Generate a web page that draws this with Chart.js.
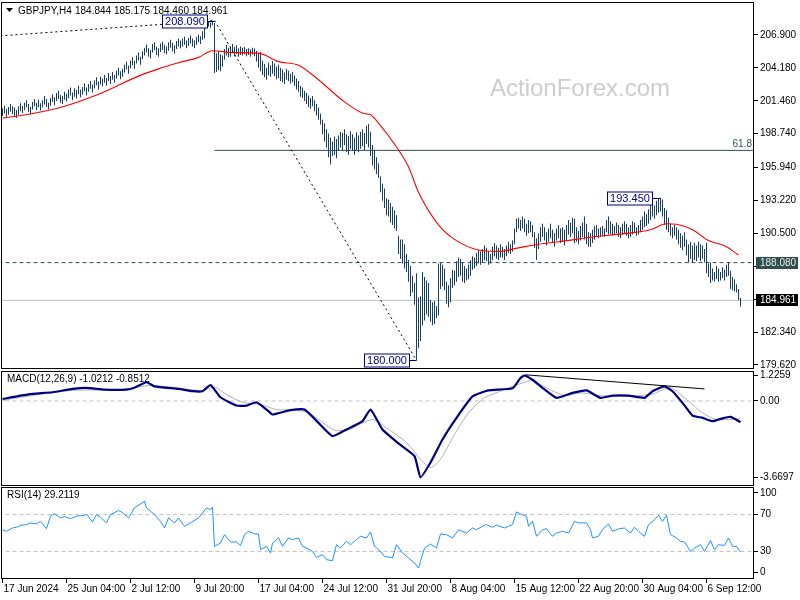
<!DOCTYPE html>
<html>
<head>
<meta charset="utf-8">
<script src="https://cdn.jsdelivr.net/npm/chart.js@4.4.1/dist/chart.umd.min.js"></script>
<style>
  html, body { margin: 0; padding: 0; background: #fff; }
  #wrap { position: relative; width: 800px; height: 600px; overflow: hidden; }
  #wrap canvas { position: absolute; left: 0; }
</style>
</head>
<body>
<div id="wrap">
  <canvas id="priceChart" width="800" height="371" style="top:0"></canvas>
  <canvas id="macdChart" width="800" height="119" style="top:369px"></canvas>
  <canvas id="rsiChart" width="800" height="114" style="top:486px"></canvas>
</div>
<script>
// GBPJPY H4 - bar index 0 = 17 Jun 2024 00:00, 6 bars per day
const symbolLabel = 'GBPJPY,H4';
const lastOHLC = [184.844, 185.175, 184.460, 184.961];

const xTickIdx = [0, 32, 64, 96, 128, 160, 192, 224, 256, 288, 320, 352];
const xTickText = ['17 Jun 2024', '25 Jun 04:00', '2 Jul 12:00', '9 Jul 20:00', '17 Jul 04:00', '24 Jul 12:00',
  '31 Jul 20:00', '8 Aug 04:00', '15 Aug 12:00', '22 Aug 20:00', '30 Aug 04:00', '6 Sep 12:00'];

const priceTicks = [179.62, 182.34, 185.06, 187.78, 190.50, 193.22, 195.94, 198.74, 201.46, 204.18, 206.90];

const barHigh = [
  200.85, 201.05, 200.80, 200.95, 201.20, 201.00, 200.90, 200.70, 201.00, 201.25,
  201.05, 201.30, 201.50, 201.20, 200.95, 201.35, 201.60, 201.30, 201.55, 201.25,
  201.50, 201.85, 201.60, 201.30, 201.70, 202.00, 201.75, 202.10, 202.30, 201.95,
  201.85, 202.20, 202.05, 202.40, 202.55, 202.15, 202.50, 202.35, 202.70, 202.40,
  202.60, 202.90, 202.55, 202.85, 203.10, 202.80, 203.15, 203.40, 203.05, 203.45,
  203.30, 203.60, 203.35, 203.75, 203.50, 203.85, 203.60, 203.95, 204.20, 203.90,
  204.10, 204.45, 204.70, 204.35, 204.80, 205.05, 204.75, 205.20, 205.45, 205.10,
  205.55, 205.85, 206.10, 205.80, 205.65, 206.15, 206.30, 205.95, 205.80, 206.20,
  206.35, 206.10, 205.95, 206.30, 206.50, 206.25, 206.05, 206.40, 206.60, 206.45,
  206.60, 206.75, 206.45, 206.65, 206.85, 206.60, 206.45, 206.75, 206.95, 206.80,
  207.20, 207.95, 208.00, 208.05, 207.95, 208.09, 207.90, 205.40, 205.60, 205.30,
  205.20, 205.75, 206.10, 205.85, 205.95, 206.15, 205.90, 206.05, 205.80, 205.95,
  205.85, 205.90, 205.75, 205.80, 205.70, 205.85, 205.78, 205.60, 205.40, 205.50,
  204.80, 204.50, 204.20, 204.60, 204.40, 204.75, 204.55, 204.30, 204.45, 204.20,
  204.05, 203.80, 204.10, 203.95, 203.70, 203.85, 203.55, 203.30, 203.10, 202.70,
  202.55, 202.30, 202.10, 201.90, 201.70, 201.85, 201.50, 201.20, 200.90, 200.40,
  199.90, 199.60, 199.10, 198.75, 198.40, 198.10, 198.50, 198.30, 198.60, 198.90,
  198.80, 199.10, 198.70, 198.55, 198.95, 198.70, 198.40, 198.85, 198.60, 198.90,
  199.10, 198.80, 199.40, 199.55, 198.90, 197.80, 197.40, 196.80, 196.30, 195.20,
  194.60, 194.20, 193.40, 193.30, 193.00, 192.70, 192.40, 192.00, 190.30, 190.00,
  190.00, 189.60, 188.80, 188.30, 187.80, 187.00, 186.40, 187.20, 185.20, 185.30,
  187.30, 186.90, 186.60, 186.40, 185.00, 184.80, 184.90, 184.50, 188.00, 188.10,
  187.90, 187.60, 186.50, 186.20, 186.80, 187.50, 187.40, 188.20, 188.50, 188.40,
  188.10, 187.80, 187.60, 187.90, 188.30, 188.60, 188.50, 188.90, 189.10, 189.00,
  189.20, 189.50, 189.30, 189.00, 188.80, 189.40, 189.70, 189.50, 189.30, 189.60,
  189.40, 189.20, 189.50, 189.80, 189.60, 189.90, 190.90, 191.70, 191.80, 191.60,
  191.90, 191.70, 191.30, 191.60, 191.50, 191.20, 190.60, 190.10, 190.50, 191.00,
  191.30, 191.00, 190.60, 190.90, 191.30, 190.80, 190.50, 190.90, 191.20, 190.90,
  191.00, 190.80, 191.20, 191.60, 191.40, 191.80, 191.70, 191.00, 190.70, 191.10,
  191.40, 191.90, 191.30, 190.60, 190.50, 190.80, 191.10, 191.20, 190.90, 191.00,
  191.10, 190.90, 191.60, 191.90, 191.50, 191.30, 191.10, 191.40, 191.20, 191.00,
  191.30, 191.50, 191.30, 191.00, 191.20, 191.50, 191.40, 191.00, 191.20, 191.60,
  191.90, 192.30, 192.10, 192.50, 192.80, 193.10, 192.80, 193.20, 193.35, 193.45,
  193.30, 192.60, 192.40, 191.80, 191.30, 191.00, 191.20, 191.00, 190.80, 190.50,
  190.30, 190.60, 190.00, 189.60, 189.80, 189.50, 189.70, 189.50, 189.80, 189.60,
  189.50, 189.20, 189.70, 188.00, 188.10, 187.60, 187.30, 187.80, 187.60, 187.30,
  187.70, 187.50, 187.90, 188.10, 187.40, 186.90, 186.70, 186.30, 185.90, 185.175
];
const barLow = [
  200.20, 200.40, 200.15, 200.30, 200.55, 200.35, 200.20, 200.05, 200.30, 200.60,
  200.45, 200.70, 200.90, 200.55, 200.35, 200.75, 201.00, 200.70, 200.95, 200.65,
  200.90, 201.15, 200.95, 200.75, 201.05, 201.35, 201.10, 201.45, 201.60, 201.30,
  201.20, 201.55, 201.40, 201.70, 201.90, 201.50, 201.80, 201.65, 202.00, 201.75,
  201.95, 202.25, 201.90, 202.20, 202.45, 202.15, 202.50, 202.75, 202.40, 202.80,
  202.65, 202.95, 202.70, 203.10, 202.85, 203.20, 202.95, 203.30, 203.55, 203.25,
  203.45, 203.80, 204.05, 203.70, 204.15, 204.40, 204.10, 204.55, 204.80, 204.45,
  204.90, 205.20, 205.45, 205.10, 204.95, 205.45, 205.65, 205.25, 205.10, 205.50,
  205.65, 205.40, 205.30, 205.60, 205.85, 205.55, 205.35, 205.75, 205.95, 205.80,
  205.95, 206.10, 205.80, 206.00, 206.20, 205.95, 205.80, 206.10, 206.30, 206.15,
  206.50, 206.60, 207.55, 207.60, 207.50, 207.70, 203.75, 203.85, 204.00, 203.90,
  204.30, 204.85, 205.20, 205.05, 205.10, 205.40, 205.15, 205.30, 205.10, 205.25,
  205.20, 205.30, 205.15, 205.25, 205.10, 205.28, 205.15, 204.70, 204.20, 203.90,
  203.60, 203.40, 203.20, 203.55, 203.45, 203.70, 203.50, 203.25, 203.35, 203.10,
  203.00, 202.85, 203.20, 203.10, 202.90, 203.00, 202.70, 202.40, 202.20, 201.80,
  201.70, 201.45, 201.20, 200.95, 200.80, 201.00, 200.60, 200.25, 199.90, 199.50,
  198.70, 198.10, 197.60, 196.80, 196.20, 196.90, 197.00, 196.70, 197.30, 197.60,
  197.40, 197.80, 197.20, 197.00, 197.50, 197.30, 197.00, 197.40, 197.20, 197.50,
  197.70, 197.40, 197.90, 197.60, 196.90, 196.10, 195.80, 195.40, 195.10, 193.90,
  193.20, 192.60, 192.00, 191.90, 191.40, 191.20, 190.90, 190.70, 188.80, 188.40,
  188.00, 187.60, 187.30, 186.50, 185.30, 185.60, 184.60, 180.00, 181.00, 181.60,
  182.90, 183.30, 183.80, 183.60, 183.20, 182.90, 183.00, 183.50, 183.70, 185.90,
  186.10, 185.80, 184.70, 184.40, 184.80, 186.00, 186.20, 186.50, 186.90, 187.00,
  186.50, 186.40, 186.60, 186.70, 187.00, 187.50, 187.60, 187.80, 188.00, 187.90,
  188.10, 188.30, 188.20, 187.90, 188.00, 188.30, 188.60, 188.40, 188.30, 188.50,
  188.50, 188.30, 188.60, 188.90, 188.80, 189.00, 189.60, 190.60, 190.90, 190.70,
  190.90, 190.60, 190.30, 190.50, 190.60, 190.20, 189.30, 188.30, 189.20, 189.80,
  190.20, 189.90, 189.50, 189.80, 190.10, 189.70, 189.40, 189.90, 190.10, 189.70,
  189.80, 189.50, 189.90, 190.40, 190.20, 190.50, 189.70, 189.80, 189.60, 189.90,
  190.20, 190.00, 189.60, 189.40, 189.40, 189.70, 190.00, 190.30, 190.10, 190.20,
  190.30, 190.20, 190.60, 190.40, 190.40, 190.30, 190.40, 190.50, 190.20, 190.10,
  190.40, 190.50, 190.30, 190.10, 190.20, 190.40, 190.60, 190.30, 190.40, 190.60,
  190.80, 191.00, 191.10, 191.30, 191.60, 191.90, 191.70, 192.00, 192.20, 192.30,
  191.90, 191.20, 190.80, 190.60, 190.30, 190.10, 190.30, 190.00, 189.60, 189.30,
  189.10, 189.40, 188.70, 188.10, 188.40, 188.10, 188.30, 188.20, 188.50, 188.20,
  188.40, 188.10, 187.20, 186.90, 186.40, 186.60, 186.50, 186.70, 186.50, 186.60,
  186.80, 186.60, 186.90, 187.00, 185.90, 185.80, 185.70, 185.60, 185.00, 184.46
];

// moving average (red)
const maIdx = [0, 14, 28, 48, 68, 78, 88, 98, 105, 115, 128, 138, 148, 158, 170, 180, 184, 188, 197, 203,
  208, 218, 226, 238, 248, 258, 268, 278, 295, 312, 324, 332, 337, 345, 353, 362, 368];
const maVal = [200.04, 200.37, 200.86, 202.0, 203.5, 204.1, 204.6, 205.05, 205.6, 205.45,
  205.4, 204.7, 204.4, 203.2, 201.5, 200.45, 200.3, 199.62, 197.64, 196.0,
  193.9, 191.2, 190.0, 189.12, 189.0, 189.3, 189.6, 189.8, 190.2, 190.5,
  190.8, 191.3, 191.25, 190.8, 189.9, 189.4, 188.7];

// drawn objects on the price panel
const dotLine1Idx = [-1, 106];
const dotLine1Val = [206.83, 208.09];
const dotLine2Idx = [106, 207];
const dotLine2Val = [208.09, 180.00];
const fibIdx = [106, 377];
const fibLevel = 197.36;
const fibLabel = '61.8';
const levelIdx = [-2, 377];
const resistLevel = 188.08;
const lastLevel = 184.961;
const calloutIdx = [106, 207, 329];
const calloutPrice = [208.09, 180.00, 193.45];
const tagPrice = [188.08, 184.961];

// MACD(12,26,9)
const macdIdx = [0, 13, 25, 35, 42, 51, 62, 66, 72, 76, 88, 95, 100, 104, 109, 117, 122, 127, 133, 135,
  144, 151, 158, 165, 172, 180, 184, 190, 198, 206, 209, 214, 220, 227, 235, 243, 255, 259, 261, 265,
  270, 277, 285, 292, 299, 305, 313, 321, 325, 331, 335, 340, 345, 350, 355, 359, 364, 369];
const macdVal = [0.10, 0.32, 0.42, 0.58, 0.63, 0.55, 0.55, 0.64, 0.90, 0.70, 0.58, 0.47, 0.47, 0.77, 0.18, -0.22, -0.22, -0.06, -0.49, -0.65,
  -0.44, -0.41, -1.05, -1.69, -1.37, -0.97, -0.41, -1.37, -2.04, -2.65, -3.6697, -2.96, -1.85, -0.81, 0.22, 0.51, 0.61, 1.11, 1.2259, 1.02,
  0.63, 0.15, 0.39, 0.51, 0.15, 0.26, 0.26, 0.15, 0.47, 0.70, 0.47, -0.09, -0.70, -0.81, -0.97, -0.86, -0.76, -1.0212];
const signalIdx = [0, 18, 35, 59, 73, 81, 100, 106, 112, 120, 129, 137, 146, 153, 166, 173, 185, 192, 202, 209,
  214, 219, 226, 233, 241, 250, 260, 265, 272, 281, 289, 299, 313, 325, 334, 342, 350, 357, 369];
const signalVal = [0.03, 0.31, 0.51, 0.55, 0.74, 0.70, 0.50, 0.67, 0.31, -0.06, -0.17, -0.41, -0.44, -0.57, -1.40, -1.37, -0.89, -1.29, -2.0, -2.80,
  -3.20, -2.80, -1.61, -0.57, 0.15, 0.51, 0.87, 0.99, 0.63, 0.26, 0.39, 0.26, 0.22, 0.34, 0.63, 0.07, -0.57, -0.89, -0.8512];
const macdTrendIdx = [261.5, 351];
const macdTrendVal = [1.26, 0.58];
const macdTicks = [1.2259, 0, -3.6697];
const macdTickText = ['1.2259', '0.00', '-3.6697'];
const macdNow = [-1.0212, -0.8512];

// RSI(14)
const rsiIdx = [0, 2, 5, 7, 9, 12, 14, 17, 19, 22, 24, 26, 29, 31, 34, 37, 41, 42, 45, 47,
  49, 52, 54, 58, 60, 63, 66, 71, 72, 76, 79, 81, 83, 86, 88, 91, 94, 98, 102, 104,
  105, 106, 109, 111, 114, 117, 119, 121, 123, 126, 128, 129, 132, 134, 135, 138, 140, 143, 145, 148,
  150, 152, 155, 157, 160, 162, 165, 167, 169, 172, 174, 177, 179, 182, 184, 186, 189, 191, 194, 195,
  197, 200, 203, 206, 208, 209, 211, 214, 217, 219, 222, 225, 228, 230, 232, 235, 237, 240, 242, 245,
  247, 251, 253, 255, 257, 259, 262, 263, 265, 267, 270, 272, 275, 277, 280, 283, 286, 288, 292, 294,
  295, 298, 300, 303, 305, 308, 311, 314, 316, 318, 321, 323, 326, 328, 330, 332, 334, 337, 339, 341,
  344, 346, 349, 351, 354, 356, 358, 361, 363, 365, 367, 369];
const rsiVal = [53.6, 51.8, 55.5, 56.2, 58.4, 59.1, 61, 59.9, 62.7, 54.7, 68.2, 70.8, 66.4, 67.8, 65.6, 68.2, 69.2, 70.7, 62, 70,
  67.1, 61, 70, 74.4, 72.2, 66.4, 77.3, 84.5, 77.3, 70, 62.7, 55.5, 66.4, 61, 66.4, 57.3, 61, 66.4, 77.3, 75.4,
  78, 35.5, 39.1, 48.2, 40.3, 40.3, 36.2, 48.2, 51.8, 49, 49, 31.9, 35.5, 28.3, 39.1, 44.6, 35.5, 44.6, 42.8, 44.6,
  35.5, 33.7, 30, 23.5, 26.4, 21, 19.9, 37.3, 33.7, 40.9, 37.3, 42.8, 46.4, 44.6, 51.1, 35.5, 30, 24.5, 23.5, 22.8,
  37.3, 28.3, 22.8, 17.4, 11.9, 19.1, 33.7, 38, 33.7, 49, 48.2, 44.6, 53.6, 51.8, 50, 55.5, 53.6, 57.3, 59.1, 56.2,
  58.4, 55.5, 57.3, 59.1, 72.9, 70.8, 68.2, 57.3, 62.7, 46.4, 53.6, 54.7, 46.4, 50, 51.8, 50, 62.7, 61, 61, 53.6,
  44.6, 46.4, 53.6, 59.9, 51.8, 54.4, 55.5, 50, 56.2, 51.8, 46.4, 59.1, 64.5, 69.2, 62.7, 69.2, 48.2, 44.6, 40.9, 40.3,
  30, 33.7, 37.3, 30, 41.7, 31.9, 37.3, 36.5, 44.6, 35.5, 35.5, 29.2];
const rsiLevels = [70, 30];
const rsiTickPos = [93.5, 70, 30, 7.6];
const rsiTickText = ['100', '70', '30', '0'];
const rsiNow = 29.2119;

// ---- layout / styles ----
const X_MIN = -0.75, X_MAX = 375.75;
const FONT = '"Liberation Sans", Arial, sans-serif';
const BAR_COLOR = '#173f5f';
const SLATE = '#2f4f4f';

const pts = (xs, ys) => xs.map((x, k) => ({ x: x, y: ys[k] }));
const flat = (xs, v) => xs.map(x => ({ x: x, y: v }));

function hiddenX() {
  return { type: 'linear', display: false, min: X_MIN, max: X_MAX, offset: false, grid: { offset: false } };
}

function rightAxis(min, max, tickVals, tickText) {
  return {
    type: 'linear', position: 'right', min: min, max: max,
    afterFit(s) { s.width = 46; s.paddingTop = 0; s.paddingBottom = 0; },
    afterBuildTicks(s) { s.ticks = tickVals.map(v => ({ value: v })); },
    ticks: { callback: (v, i) => tickText[i], color: '#000', font: { family: FONT, size: 10 }, padding: 2, autoSkip: false },
    grid: { drawOnChartArea: false, tickLength: 4, color: '#000' },
    border: { display: false }
  };
}

function lineSet(data, color, width, dash) {
  return { type: 'line', data: data, borderColor: color, borderWidth: width, borderDash: dash || [],
    pointRadius: 0, fill: false, tension: 0 };
}

const frame = {
  id: 'frame',
  afterDraw(chart) {
    const { ctx, chartArea: a } = chart;
    ctx.save();
    ctx.strokeStyle = '#000';
    ctx.lineWidth = 1;
    ctx.strokeRect(a.left + 0.5, a.top + 0.5, a.right - a.left - 1, a.bottom - a.top - 1);
    ctx.restore();
  }
};

const panelTitle = {
  id: 'panelTitle',
  afterDatasetsDraw(chart, args, opts) {
    if (!opts.text) return;
    const { ctx, chartArea: a } = chart;
    ctx.save();
    ctx.font = '10px ' + FONT;
    ctx.fillStyle = '#000';
    ctx.textBaseline = 'middle';
    ctx.fillText(opts.text, a.left + 6, a.top + 8);
    ctx.restore();
  }
};

const priceDecor = {
  id: 'priceDecor',
  beforeDatasetsDraw(chart) {
    const { ctx, chartArea: a } = chart;
    ctx.save();
    ctx.font = '24px ' + FONT;
    ctx.fillStyle = '#cdcdcd';
    ctx.textBaseline = 'middle';
    ctx.fillText('ActionForex.com', a.left + 489, a.top + 87);
    ctx.restore();
  },
  afterDatasetsDraw(chart) {
    const { ctx, chartArea: a, scales: { x, y } } = chart;
    ctx.save();
    // header
    ctx.fillStyle = '#000';
    ctx.beginPath();
    ctx.moveTo(a.left + 5, a.top + 6);
    ctx.lineTo(a.left + 12, a.top + 6);
    ctx.lineTo(a.left + 8.5, a.top + 10);
    ctx.closePath();
    ctx.fill();
    ctx.font = '10px ' + FONT;
    ctx.textBaseline = 'middle';
    ctx.fillText(symbolLabel, a.left + 17, a.top + 9);
    ctx.fillText(lastOHLC.map(v => v.toFixed(3)).join(' '), a.left + 74, a.top + 9);
    // fibo label
    ctx.fillStyle = SLATE;
    ctx.textAlign = 'right';
    ctx.textBaseline = 'bottom';
    ctx.fillText(fibLabel, a.right - 2, y.getPixelForValue(fibLevel) - 1);
    // price callouts
    const gaps = [8, 7, 9];
    ctx.font = '11px ' + FONT;
    ctx.textAlign = 'center';
    ctx.textBaseline = 'middle';
    ctx.lineWidth = 1;
    calloutIdx.forEach((idx, k) => {
      const px = x.getPixelForValue(idx);
      const py = Math.round(y.getPixelForValue(calloutPrice[k])) + 0.5;
      const txt = calloutPrice[k].toFixed(3);
      const w = Math.round(ctx.measureText(txt).width) + 5;
      const right = Math.round(px - gaps[k]) + 0.5;
      const left = right - w;
      ctx.fillStyle = '#fff';
      ctx.fillRect(left, py - 6.5, w, 13);
      ctx.strokeStyle = '#000080';
      ctx.strokeRect(left, py - 6.5, w, 13);
      ctx.beginPath();
      ctx.moveTo(right, py);
      ctx.lineTo(px, py);
      ctx.stroke();
      ctx.fillStyle = '#000080';
      ctx.fillText(txt, left + w / 2, py + 0.5);
    });
    ctx.restore();
  },
  afterDraw(chart) {
    const { ctx, chartArea: a, scales: { y } } = chart;
    const bg = [SLATE, '#000'];
    const fg = ['#e8e8e8', '#fff'];
    ctx.save();
    ctx.font = '10px ' + FONT;
    ctx.textBaseline = 'middle';
    tagPrice.forEach((p, k) => {
      const py = Math.round(y.getPixelForValue(p));
      ctx.fillStyle = bg[k];
      ctx.fillRect(a.right + 2, py - 6, 42, 12);
      ctx.fillStyle = fg[k];
      ctx.fillText(p.toFixed(3), a.right + 6, py + 0.5);
    });
    ctx.restore();
  }
};

const common = {
  responsive: false,
  animation: false,
  devicePixelRatio: 1,
  events: [],
  plugins: { legend: { display: false }, tooltip: { enabled: false } }
};

// ---- price panel ----
new Chart(document.getElementById('priceChart'), {
  type: 'bar',
  data: {
    datasets: [
      lineSet(pts(dotLine1Idx, dotLine1Val), '#000', 1, [2, 3]),
      lineSet(pts(dotLine2Idx, dotLine2Val), '#000', 1, [2, 3]),
      Object.assign(lineSet(pts(maIdx, maVal), '#ff0000', 1.1), { cubicInterpolationMode: 'monotone' }),
      {
        type: 'bar',
        data: barHigh.map((h, i) => ({ x: i, y: [barLow[i], h] })),
        backgroundColor: BAR_COLOR,
        borderWidth: 0,
        barThickness: 1,
        inflateAmount: 0
      },
      lineSet(flat(fibIdx, fibLevel), SLATE, 1),
      lineSet(flat(levelIdx, resistLevel), SLATE, 1, [4, 3]),
      lineSet(flat(levelIdx, lastLevel), '#c0c0c0', 1)
    ]
  },
  options: Object.assign({}, common, {
    layout: { padding: { left: 1, top: 2, right: 0, bottom: 2 } },
    scales: {
      x: hiddenX(),
      y: rightAxis(179.285, 209.628, priceTicks, priceTicks.map(v => v.toFixed(3)))
    }
  }),
  plugins: [frame, priceDecor]
});

// ---- MACD panel ----
new Chart(document.getElementById('macdChart'), {
  type: 'line',
  data: {
    datasets: [
      lineSet(pts(macdTrendIdx, macdTrendVal), '#000', 1),
      Object.assign(lineSet(pts(macdIdx, macdVal), '#000080', 2.2), { tension: 0.15 }),
      Object.assign(lineSet(pts(signalIdx, signalVal), '#b0b0b0', 1), { tension: 0.25 }),
      lineSet(flat(levelIdx, 0), '#c0c0c0', 1, [4, 3])
    ]
  },
  options: Object.assign({}, common, {
    layout: { padding: { left: 1, top: 2, right: 0, bottom: 2 } },
    plugins: Object.assign({}, common.plugins, {
      panelTitle: { text: 'MACD(12,26,9) ' + macdNow.map(v => v.toFixed(4)).join(' ') }
    }),
    scales: {
      x: hiddenX(),
      y: rightAxis(-4.087, 1.442, macdTicks, macdTickText)
    }
  }),
  plugins: [frame, panelTitle]
});

// ---- RSI panel ----
new Chart(document.getElementById('rsiChart'), {
  type: 'line',
  data: {
    datasets: [
      lineSet(pts(rsiIdx, rsiVal), '#1e90ff', 1),
      lineSet(flat(levelIdx, rsiLevels[0]), '#c0c0c0', 1, [4, 3]),
      lineSet(flat(levelIdx, rsiLevels[1]), '#c0c0c0', 1, [4, 3])
    ]
  },
  options: Object.assign({}, common, {
    layout: { padding: { left: 1, top: 1, right: 0, bottom: 0 } },
    plugins: Object.assign({}, common.plugins, {
      panelTitle: { text: 'RSI(14) ' + rsiNow.toFixed(4) }
    }),
    scales: {
      x: {
        type: 'linear', position: 'bottom', min: X_MIN, max: X_MAX, offset: false,
        afterFit(s) { s.height = 21; s.paddingLeft = 0; s.paddingRight = 0; },
        afterBuildTicks(s) { s.ticks = xTickIdx.map(v => ({ value: v })); },
        ticks: {
          callback: (v, i) => xTickText[i], align: 'start', labelOffset: 1, padding: 0,
          maxRotation: 0, minRotation: 0, autoSkip: false, color: '#000', font: { family: FONT, size: 10 }
        },
        grid: { drawOnChartArea: false, tickLength: 4, color: '#000', offset: false },
        border: { display: false }
      },
      y: rightAxis(0, 100, rsiTickPos, rsiTickText)
    }
  }),
  plugins: [frame, panelTitle]
});
</script>
</body>
</html>
